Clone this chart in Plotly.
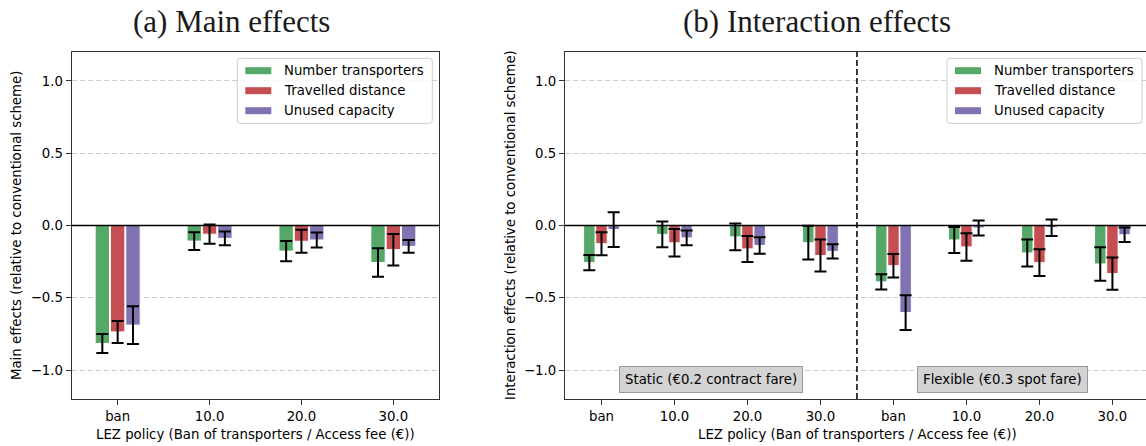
import plotly.graph_objects as go

W, H = 1146, 446

# ---- data ----
main_policies = ["ban", "10.0", "20.0", "30.0"]
inter_policies = ["ban", "10.0", "20.0", "30.0", "ban", "10.0", "20.0", "30.0"]
series_names = ["Number transporters", "Travelled distance", "Unused capacity"]

main_transporters = [-0.816, -0.108, -0.177, -0.256]
main_transporters_err = [0.066, 0.061, 0.070, 0.098]
main_distance = [-0.736, -0.060, -0.109, -0.167]
main_distance_err = [0.076, 0.067, 0.079, 0.109]
main_capacity = [-0.689, -0.089, -0.100, -0.144]
main_capacity_err = [0.130, 0.047, 0.052, 0.044]

inter_transporters = [-0.257, -0.061, -0.079, -0.119, -0.390, -0.100, -0.190, -0.266]
inter_transporters_err = [0.053, 0.089, 0.093, 0.117, 0.052, 0.090, 0.093, 0.116]
inter_distance = [-0.126, -0.120, -0.162, -0.208, -0.278, -0.148, -0.257, -0.333]
inter_distance_err = [0.080, 0.095, 0.090, 0.111, 0.081, 0.095, 0.093, 0.111]
inter_capacity = [-0.028, -0.086, -0.138, -0.179, -0.602, -0.017, -0.015, -0.064]
inter_capacity_err = [0.120, 0.051, 0.057, 0.050, 0.120, 0.052, 0.057, 0.050]

y_ticks = [-1.0, -0.5, 0.0, 0.5, 1.0]
y_tick_labels = ["\u22121.0", "\u22120.5", "0.0", "0.5", "1.0"]
scheme_labels = ["Static (\u20ac0.2 contract fare)", "Flexible (\u20ac0.3 spot fare)"]

COLORS = ["#55a868", "#c44e52", "#8172b2"]
FONT = "DejaVu Sans"
FS = 13.3


def X(px):
    return px / W


def Y(py):
    return 1 - py / H


fig = go.Figure()

panels = [
    ("x", "y", main_policies,
     [(main_transporters, main_transporters_err),
      (main_distance, main_distance_err),
      (main_capacity, main_capacity_err)]),
    ("x2", "y2", inter_policies,
     [(inter_transporters, inter_transporters_err),
      (inter_distance, inter_distance_err),
      (inter_capacity, inter_capacity_err)]),
]
for xa, ya, cats, series in panels:
    for name, color, (vals, errs) in zip(series_names, COLORS, series):
        fig.add_trace(go.Bar(
            x=list(range(len(cats))), y=vals, name=name,
            xaxis=xa, yaxis=ya, showlegend=False,
            marker=dict(color=color, line=dict(color="white", width=1)),
            error_y=dict(type="data", array=errs, color="black", thickness=2, width=6),
        ))

axis_common = dict(
    showline=True, linecolor="#333333", linewidth=1.2,
    ticks="outside", ticklen=5, tickcolor="#333333",
    tickfont=dict(family=FONT, size=FS, color="black"),
    automargin=False, zeroline=False,
)
fig.update_layout(
    width=W, height=H,
    margin=dict(l=0, r=0, t=0, b=0),
    paper_bgcolor="white", plot_bgcolor="white",
    barmode="group", bargap=0.5, bargroupgap=0.06,
    font=dict(family=FONT, size=FS, color="black"),
    xaxis=dict(domain=[X(71.7), X(439.3)], range=[-0.5, 3.5], mirror=True,
               tickvals=list(range(len(main_policies))), ticktext=main_policies,
               showgrid=False, anchor="y", **axis_common),
    yaxis=dict(domain=[Y(399), Y(52)], range=[-1.2, 1.2], mirror=True,
               tickvals=y_ticks, ticktext=y_tick_labels,
               showgrid=True, gridcolor="#cccccc", gridwidth=1, griddash="5px,3px",
               anchor="x", **axis_common),
    xaxis2=dict(domain=[X(565), 1.0], range=[-0.5, 7.46], mirror=True,
                tickvals=list(range(len(inter_policies))), ticktext=inter_policies,
                showgrid=False, anchor="y2", **axis_common),
    yaxis2=dict(domain=[Y(399), Y(52)], range=[-1.2, 1.2], mirror=False,
                tickvals=y_ticks, ticktext=y_tick_labels,
                showgrid=True, gridcolor="#cccccc", gridwidth=1, griddash="5px,3px",
                anchor="x2", **axis_common),
)

shapes = []
# zero lines
for xa, ya in [("x", "y"), ("x2", "y2")]:
    shapes.append(dict(type="line", xref=f"{xa} domain", yref=ya, x0=0, x1=1, y0=0, y1=0,
                       line=dict(color="black", width=1.5), layer="above"))
# separator between static and flexible schemes
shapes.append(dict(type="line", xref="x2", yref="y2 domain", x0=3.5, x1=3.5, y0=0, y1=1,
                   line=dict(color="black", width=1.5, dash="6px,3px"), layer="above"))


def rounded_rect(x0, y0, x1, y1, r):
    return (f"M {X(x0 + r)},{Y(y0)} L {X(x1 - r)},{Y(y0)} Q {X(x1)},{Y(y0)} {X(x1)},{Y(y0 + r)} "
            f"L {X(x1)},{Y(y1 - r)} Q {X(x1)},{Y(y1)} {X(x1 - r)},{Y(y1)} "
            f"L {X(x0 + r)},{Y(y1)} Q {X(x0)},{Y(y1)} {X(x0)},{Y(y1 - r)} "
            f"L {X(x0)},{Y(y0 + r)} Q {X(x0)},{Y(y0)} {X(x0 + r)},{Y(y0)} Z")


annotations = []
# hand-built matplotlib-style legends
for lx0 in [237.3, 947.0]:
    lx1 = lx0 + 195
    shapes.append(dict(type="path", xref="paper", yref="paper",
                       path=rounded_rect(lx0, 58.3, lx1, 123.3, 3),
                       fillcolor="rgba(255,255,255,0.8)", line=dict(color="#cccccc", width=1),
                       layer="above"))
    for i, (name, color) in enumerate(zip(series_names, COLORS)):
        cy = 70.7 + 20 * i
        shapes.append(dict(type="rect", xref="paper", yref="paper",
                           x0=X(lx0 + 8), x1=X(lx0 + 34), y0=Y(cy - 3.5), y1=Y(cy + 3.5),
                           fillcolor=color, line=dict(width=0), layer="above"))
        annotations.append(dict(xref="paper", yref="paper", x=X(lx0 + 45), y=Y(cy),
                                xanchor="left", yanchor="middle", showarrow=False,
                                text=name, font=dict(family=FONT, size=FS, color="black")))

# scheme boxes
for xc, label in zip([1.5, 5.5], scheme_labels):
    annotations.append(dict(xref="x2", yref="y2", x=xc, y=-1.068, showarrow=False,
                            text=label, bgcolor="#d3d3d3", bordercolor="#999999",
                            borderwidth=1, borderpad=5,
                            font=dict(family=FONT, size=FS, color="black")))

# panel titles
for xc, title in [(231.5, "(a) Main effects"), (817, "(b) Interaction effects")]:
    annotations.append(dict(xref="paper", yref="paper", x=X(xc), y=Y(21),
                            xanchor="center", yanchor="middle", showarrow=False, text=title,
                            font=dict(family="Liberation Serif", size=31, color="#1a1a1a")))

# axis titles
xlabel = "LEZ policy (Ban of transporters / Access fee (\u20ac))"
for xc in [255.5, 857]:
    annotations.append(dict(xref="paper", yref="paper", x=X(xc), y=Y(434),
                            xanchor="center", yanchor="middle", showarrow=False, text=xlabel,
                            font=dict(family=FONT, size=FS, color="black")))
for xc, label in [(16.5, "Main effects (relative to conventional scheme)"),
                  (510.5, "Interaction effects (relative to conventional scheme)")]:
    annotations.append(dict(xref="paper", yref="paper", x=X(xc), y=Y(225.5),
                            xanchor="center", yanchor="middle", showarrow=False, text=label,
                            textangle=-90, font=dict(family=FONT, size=FS, color="black")))

fig.update_layout(shapes=shapes, annotations=annotations)
fig.write_html("out.html", config={"displayModeBar": False},
               post_script="document.body.style.margin='0';")
